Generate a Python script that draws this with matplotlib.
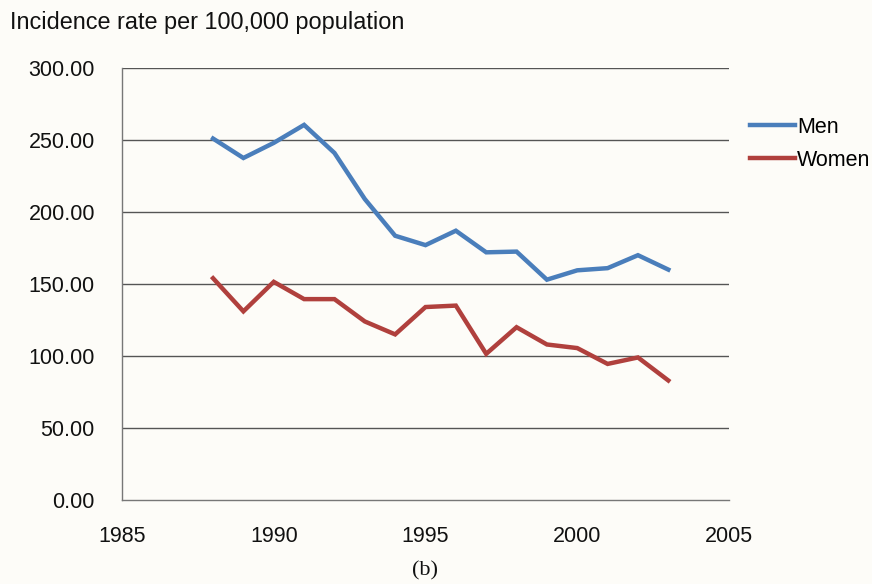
import numpy as np
import matplotlib.pyplot as plt

plt.rcParams.update({
    "font.family": ["Liberation Sans", "DejaVu Sans"],
    "font.size": 15.5,
})

YEARS = [1988, 1989, 1990, 1991, 1992, 1993, 1994, 1995,
         1996, 1997, 1998, 1999, 2000, 2001, 2002, 2003]
MEN = [251, 237.5, 248, 260.5, 241, 209, 183.5, 177,
       187, 172, 172.5, 153, 159.5, 161, 170, 160]
WOMEN = [154, 131, 151.5, 139.5, 139.5, 124, 115, 134,
         135, 101.5, 120, 108, 105.5, 94.5, 99, 83]
Y_TICKS = [0, 50, 100, 150, 200, 250, 300]
X_TICKS = [1985, 1990, 1995, 2000, 2005]

BG = "#fdfcf8"
fig = plt.figure(figsize=(8.72, 5.84), dpi=100, facecolor=BG)
ax = fig.add_axes([122 / 872, 1 - 500 / 584, (729 - 122) / 872, (500 - 68) / 584])
ax.set_facecolor(BG)

ax.plot(YEARS, MEN, color="#4a7ebb", lw=3.2, label="Men", solid_joinstyle="miter")
ax.plot(YEARS, WOMEN, color="#b0403d", lw=3.2, label="Women", solid_joinstyle="miter")

ax.set_xlim(1985, 2005)
ax.set_ylim(0, 300)
ax.set_xticks(X_TICKS)
ax.set_yticks(Y_TICKS)
ax.set_yticklabels([f"{v:.2f}" for v in Y_TICKS])
ax.tick_params(length=0, colors="#111111")
ax.tick_params(axis="y", pad=19.5)
ax.tick_params(axis="x", pad=19)

for v in Y_TICKS[1:]:
    ax.axhline(v, color="#555555", lw=1.0, zorder=0)
for side in ["top", "right"]:
    ax.spines[side].set_visible(False)
for side in ["left", "bottom"]:
    ax.spines[side].set_color("#777777")
    ax.spines[side].set_linewidth(1.0)

leg = ax.legend(loc="upper left", bbox_to_anchor=(750 / 872, 1 - 117 / 584),
                bbox_transform=fig.transFigure, frameon=False,
                handlelength=2.1, handletextpad=0.1, labelspacing=0.55,
                borderaxespad=0, borderpad=0)

fig.text(10 / 872, 1 - 22 / 584, "Incidence rate per 100,000 population",
         ha="left", va="center", fontsize=16.9, color="#111111")
fig.text(425 / 872, 1 - 571 / 584, "(b)", ha="center", va="center",
         fontsize=16, family=["Liberation Serif", "DejaVu Serif"], color="#111111")

fig.savefig("out.png", dpi=100, facecolor=BG)
